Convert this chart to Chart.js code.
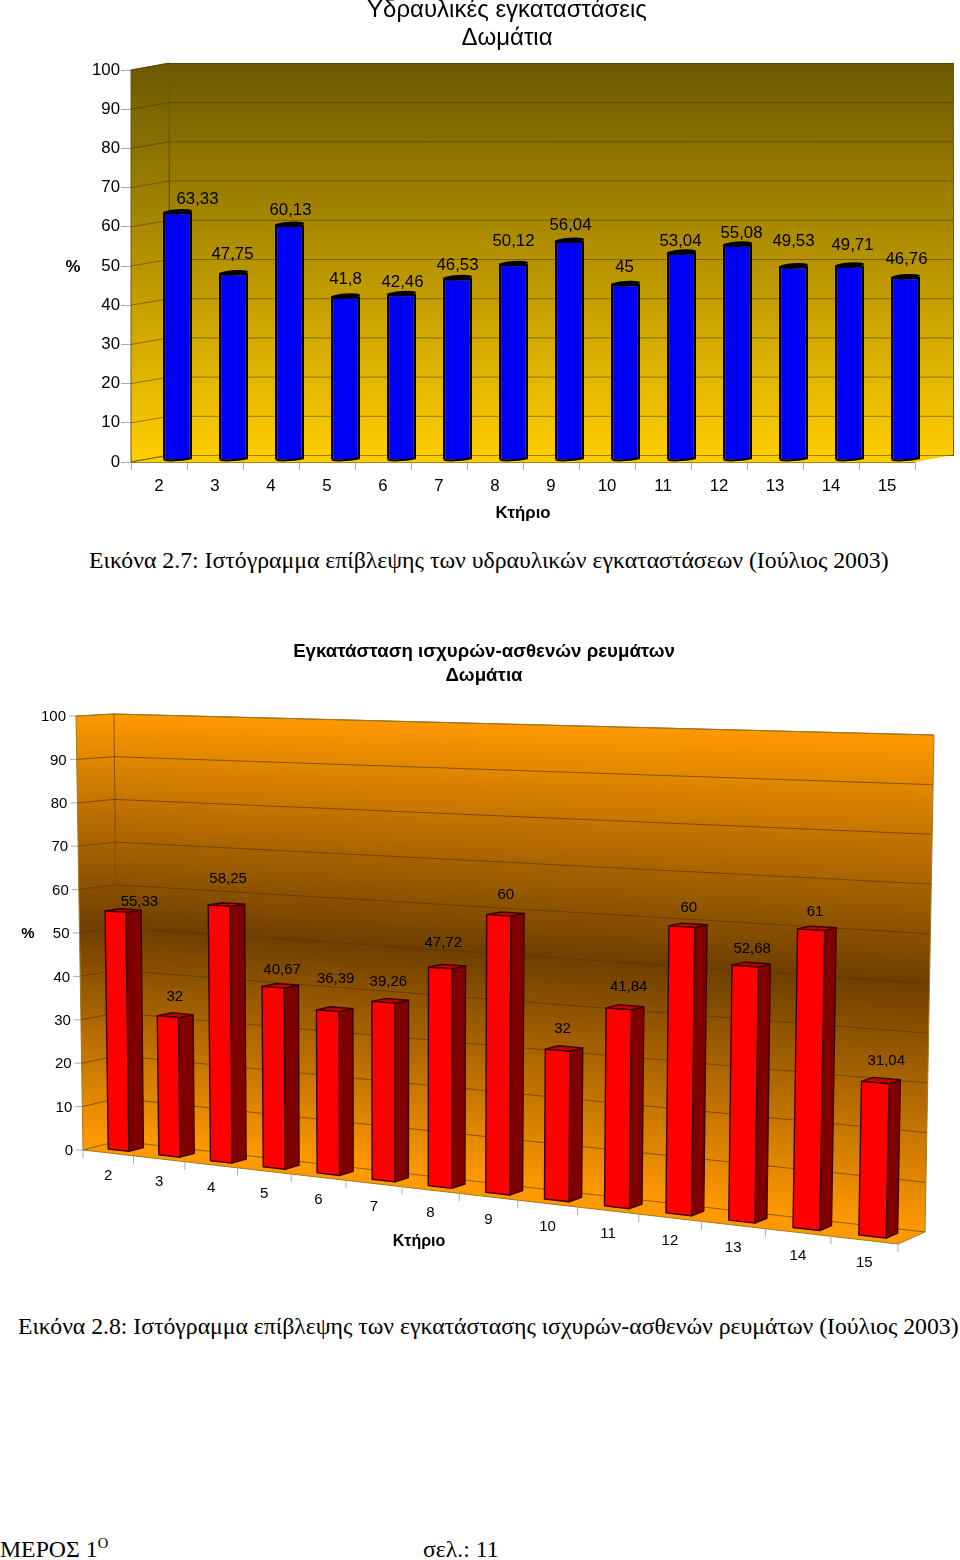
<!DOCTYPE html>
<html>
<head>
<meta charset="utf-8">
<script src="https://cdn.jsdelivr.net/npm/chart.js@4"></script>
<style>
html, body { margin: 0; padding: 0; background: #fff; }
#page { position: relative; width: 960px; height: 1560px; overflow: hidden; }
canvas { position: absolute; left: 0; }
.cap { position: absolute; font-family: "Liberation Serif", serif; font-size: 23.75px; color: #000; white-space: nowrap; line-height: 28px; }
sup { font-size: 14.5px; line-height: 0; }
</style>
</head>
<body>
<div id="page">
  <canvas id="waterChart" width="960" height="530" style="top:0"></canvas>
  <div class="cap" style="left:89px;top:546px">Εικόνα 2.7: Ιστόγραμμα επίβλεψης των υδραυλικών εγκαταστάσεων (Ιούλιος 2003)</div>
  <canvas id="powerChart" width="960" height="670" style="top:630px"></canvas>
  <div class="cap" style="left:18px;top:1312px;letter-spacing:-0.02px">Εικόνα 2.8: Ιστόγραμμα επίβλεψης των εγκατάστασης ισχυρών-ασθενών ρευμάτων (Ιούλιος 2003)</div>
  <div class="cap" style="left:0;top:1535px">ΜΕΡΟΣ 1<sup>Ο</sup></div>
  <div class="cap" style="left:423px;top:1535px">σελ.: 11</div>
</div>
<script>
const buildings = ['2', '3', '4', '5', '6', '7', '8', '9', '10', '11', '12', '13', '14', '15'];
const waterValues = [63.33, 47.75, 60.13, 41.8, 42.46, 46.53, 50.12, 56.04, 45, 53.04, 55.08, 49.53, 49.71, 46.76];
const powerValues = [55.33, 32, 58.25, 40.67, 36.39, 39.26, 47.72, 60, 32, 41.84, 60, 52.68, 61, 31.04];

// hand placed label offsets, the original labels do not sit evenly above the bars
const waterLabelDx = [20, -1, 1, 0, 1, 0, 0, 1, -1, -1, 4, 0, 3, 1];
const waterLabelDy = [-12, -18, -14, -17, -11, -12, -22, -15, -16, -11, -11, -24, -20, -17];
const powerLabelDx = [24, 7, 9, 9, 8, 5, 3, 7, 5, 10, 7, 7, 4, 11];
const powerLabelDy = [-10, -20, -27, -17, -32, -20, -25, -20, -21, -22, -19, -17, -18, -22];

const sans = '"Liberation Sans", Arial, sans-serif';
const commaValue = v => String(v).replace('.', ',');

function text(ctx, str, x, y, font, align) {
    ctx.font = font;
    ctx.fillStyle = '#000';
    ctx.textAlign = align || 'center';
    ctx.textBaseline = 'middle';
    ctx.fillText(str, x, y);
}

// Chart 1: oblique 3D, wall pushed back by a fixed offset
const wallDx = 38, wallDy = -7;
const barDx = 18.5, barDy = -2;

function stripePattern(ctx) {
    const c = document.createElement('canvas');
    c.width = 6; c.height = 1;
    const p = c.getContext('2d');
    p.fillStyle = '#0000ff'; p.fillRect(0, 0, 6, 1);
    p.fillStyle = '#0000d2'; p.fillRect(4, 0, 1, 1);
    return ctx.createPattern(c, 'repeat');
}

const waterWalls = {
    id: 'waterWalls',
    beforeDatasetsDraw(chart) {
        const ctx = chart.ctx, a = chart.chartArea, y = chart.scales.y;
        const grad = ctx.createLinearGradient(0, a.top + wallDy, 0, a.bottom + wallDy);
        grad.addColorStop(0, '#6b5800');
        grad.addColorStop(1, '#ffcc00');
        ctx.save();
        ctx.lineWidth = 1;
        ctx.strokeStyle = '#6b5a10';
        ctx.fillStyle = grad;
        // back wall
        ctx.fillRect(a.left + wallDx, a.top + wallDy, a.right - a.left, a.bottom - a.top);
        ctx.strokeRect(a.left + wallDx + .5, a.top + wallDy + .5, a.right - a.left, a.bottom - a.top);
        // side wall
        ctx.beginPath();
        ctx.moveTo(a.left, a.top);
        ctx.lineTo(a.left + wallDx, a.top + wallDy);
        ctx.lineTo(a.left + wallDx, a.bottom + wallDy);
        ctx.lineTo(a.left, a.bottom);
        ctx.closePath();
        ctx.fill();
        ctx.stroke();
        // floor
        ctx.fillStyle = '#ffcc00';
        ctx.beginPath();
        ctx.moveTo(a.left, a.bottom);
        ctx.lineTo(a.left + wallDx, a.bottom + wallDy);
        ctx.lineTo(a.right + wallDx, a.bottom + wallDy);
        ctx.lineTo(a.right, a.bottom);
        ctx.closePath();
        ctx.fill();
        ctx.strokeStyle = '#a08a20';
        ctx.beginPath();
        ctx.moveTo(a.left, a.bottom + .5);
        ctx.lineTo(a.right, a.bottom + .5);
        ctx.stroke();
        // gridlines on both walls
        ctx.strokeStyle = 'rgba(70,58,0,0.55)';
        y.ticks.forEach(t => {
            const py = y.getPixelForValue(t.value);
            ctx.beginPath();
            ctx.moveTo(a.left, py);
            ctx.lineTo(a.left + wallDx, py + wallDy + .5);
            ctx.lineTo(a.right + wallDx, py + wallDy + .5);
            ctx.stroke();
        });
        ctx.restore();
        // bars are drawn by the library, shifted into the box
        ctx.save();
        ctx.translate(barDx, barDy);
    },
    afterDatasetsDraw(chart) {
        const ctx = chart.ctx;
        const bars = chart.getDatasetMeta(0).data;
        ctx.fillStyle = '#000';
        ctx.strokeStyle = '#000';
        bars.forEach(b => {
            const r = b.width / 2;
            ctx.beginPath();
            ctx.ellipse(b.x, b.y, r, 2.6, -0.07, 0, Math.PI * 2);
            ctx.fill();
            ctx.lineWidth = 2;
            ctx.beginPath();
            ctx.ellipse(b.x, b.base - 1, r - 1, 1.6, -0.07, 0, Math.PI);
            ctx.stroke();
        });
        ctx.restore();
        bars.forEach((b, i) => {
            text(ctx, commaValue(waterValues[i]), b.x + barDx + waterLabelDx[i], b.y + barDy + waterLabelDy[i], '16.8px ' + sans);
        });
        text(ctx, 'Υδραυλικές εγκαταστάσεις', 507, 10, '24px ' + sans);
        text(ctx, 'Δωμάτια', 507, 38, '24px ' + sans);
        text(ctx, '%', 73, 267, 'bold 16.8px ' + sans);
    }
};

new Chart(document.getElementById('waterChart'), {
    type: 'bar',
    data: {
        labels: buildings,
        datasets: [{
            data: waterValues,
            backgroundColor: ctx => stripePattern(ctx.chart.ctx),
            borderColor: '#000',
            borderWidth: 2.6,
            barPercentage: 0.52,
            categoryPercentage: 1,
            clip: false
        }]
    },
    options: {
        responsive: false,
        animation: false,
        layout: { padding: { top: 70, right: 45 } },
        plugins: { legend: { display: false }, tooltip: { enabled: false } },
        scales: {
            x: {
                afterFit: s => { s.height = 68; },
                border: { display: false },
                grid: { drawOnChartArea: false, color: '#aaa', tickLength: 8, offset: true },
                ticks: { color: '#000', font: { size: 16.8, family: sans }, padding: 6, maxRotation: 0 },
                title: { display: true, text: 'Κτήριο', color: '#000', font: { size: 16.8, weight: 'bold', family: sans }, padding: { top: 0, bottom: 7 } }
            },
            y: {
                min: 0, max: 100,
                afterFit: s => { s.width = 131; },
                border: { display: false },
                grid: { drawOnChartArea: false, color: '#aaa', tickLength: 10 },
                ticks: { stepSize: 10, color: '#000', font: { size: 16.8, family: sans }, padding: 1 }
            }
        }
    },
    plugins: [waterWalls]
});

// Chart 2: perspective box. Corners of the box in canvas pixels, the flat
// plot area of the library is mapped onto it by project().
const frontBottom = [[83, 520], [898, 614]];
const frontTop = [[76, 86], [908, 109]];
const backBottom = [[118, 511], [925, 602]];
const backTop = [[114, 84], [934, 105]];
const depthPull = 0.166;
const barFront = 0.3, barBack = 0.72;
const barScale = 0.993;

const lerp = (p, q, t) => [p[0] + (q[0] - p[0]) * t, p[1] + (q[1] - p[1]) * t];
const foreshorten = t => t / (1 + depthPull * (1 - t));

// t: 0..1 along the categories, h: 0..1 of the value axis, d: 0 front .. 1 back
function project(t, h, d) {
    const a = foreshorten(t);
    const front = lerp(lerp(frontBottom[0], frontBottom[1], a), lerp(frontTop[0], frontTop[1], a), h);
    const back = lerp(lerp(backBottom[0], backBottom[1], a), lerp(backTop[0], backTop[1], a), h);
    return lerp(front, back, d);
}

function poly(ctx, pts, fill, stroke) {
    ctx.beginPath();
    pts.forEach((p, i) => i ? ctx.lineTo(p[0], p[1]) : ctx.moveTo(p[0], p[1]));
    ctx.closePath();
    if (fill) { ctx.fillStyle = fill; ctx.fill(); }
    if (stroke) { ctx.strokeStyle = stroke; ctx.stroke(); }
}

function bandGradient(ctx, p, q) {
    const g = ctx.createLinearGradient(p[0], p[1], q[0], q[1]);
    g.addColorStop(0, '#ff9900');
    g.addColorStop(0.5, '#6e3f00');
    g.addColorStop(1, '#ff9900');
    return g;
}

const powerBox = {
    id: 'powerBox',
    beforeDatasetsDraw(chart) {
        const ctx = chart.ctx, y = chart.scales.y, a = chart.chartArea;
        const hOf = v => (a.bottom - y.getPixelForValue(v)) / (a.bottom - a.top);
        const lineCol = 'rgba(90,50,0,0.65)';
        ctx.save();
        // back wall in thin strips so the gradient follows the perspective
        const steps = 200;
        for (let i = 0; i < steps; i++) {
            const t0 = i / steps, t1 = Math.min(1, (i + 1.6) / steps);
            const top = project(t0, 1, 1), bot = project(t0, 0, 1);
            poly(ctx, [top, project(t1, 1, 1), project(t1, 0, 1), bot], bandGradient(ctx, top, bot));
        }
        // side wall
        const sideTop = project(0, 1, 1), sideBot = project(0, 0, 1);
        poly(ctx, [project(0, 1, 0), sideTop, sideBot, project(0, 0, 0)], bandGradient(ctx, sideTop, sideBot));
        // floor
        poly(ctx, [project(0, 0, 0), project(0, 0, 1), project(1, 0, 1), project(1, 0, 0)], '#ff9900');
        ctx.lineWidth = 1;
        y.ticks.forEach(t => {
            const h = hOf(t.value);
            const p = project(0, h, 0), q = project(0, h, 1), r = project(1, h, 1);
            ctx.strokeStyle = lineCol;
            ctx.beginPath();
            ctx.moveTo(p[0], p[1]);
            ctx.lineTo(q[0], q[1]);
            ctx.lineTo(r[0], r[1]);
            ctx.stroke();
            // tick mark and label
            ctx.strokeStyle = '#aaa';
            ctx.beginPath();
            ctx.moveTo(p[0] - 7, p[1]);
            ctx.lineTo(p[0], p[1]);
            ctx.stroke();
            text(ctx, t.label, p[0] - 10, p[1] + 1, '15px ' + sans, 'right');
        });
        // wall outline
        poly(ctx, [project(0, 1, 0), project(0, 1, 1), project(1, 1, 1), project(1, 0, 1), project(1, 0, 0), project(0, 0, 0)], null, '#a07a20');
        ctx.strokeStyle = lineCol;
        ctx.beginPath();
        ctx.moveTo(sideTop[0], sideTop[1]);
        ctx.lineTo(sideBot[0], sideBot[1]);
        ctx.stroke();
        // category ticks along the floor edge
        ctx.strokeStyle = '#aaa';
        for (let i = 0; i <= buildings.length; i++) {
            const p = project(i / buildings.length, 0, 0);
            ctx.beginPath();
            ctx.moveTo(p[0], p[1]);
            ctx.lineTo(p[0], p[1] + 8);
            ctx.stroke();
        }
        ctx.restore();
    },
    afterDatasetsDraw(chart) {
        const ctx = chart.ctx, a = chart.chartArea, x = chart.scales.x;
        const w = a.right - a.left, hgt = a.bottom - a.top;
        const bars = chart.getDatasetMeta(0).data;
        ctx.save();
        ctx.lineWidth = 1.4;
        ctx.lineJoin = 'round';
        bars.forEach((b, i) => {
            const t0 = (b.x - b.width / 2 - a.left) / w, t1 = (b.x + b.width / 2 - a.left) / w;
            const h = barScale * (a.bottom - b.y) / hgt;
            const edge = '#3a0000';
            poly(ctx, [project(t1, 0, barFront), project(t1, 0, barBack), project(t1, h, barBack), project(t1, h, barFront)], '#800000', edge);
            poly(ctx, [project(t0, h, barFront), project(t1, h, barFront), project(t1, h, barBack), project(t0, h, barBack)], '#c00000', edge);
            poly(ctx, [project(t0, 0, barFront), project(t1, 0, barFront), project(t1, h, barFront), project(t0, h, barFront)], '#ff0000', edge);
            const mid = project((t0 + t1) / 2, h, barFront);
            text(ctx, commaValue(powerValues[i]), mid[0] + powerLabelDx[i], mid[1] + powerLabelDy[i], '15px ' + sans);
        });
        buildings.forEach((label, i) => {
            const p = project((x.getPixelForValue(i) - a.left) / w, 0, 0);
            text(ctx, label, p[0], p[1] + 23, '15px ' + sans);
        });
        ctx.restore();
        text(ctx, 'Εγκατάσταση ισχυρών-ασθενών ρευμάτων', 484, 22, 'bold 18.7px ' + sans);
        text(ctx, 'Δωμάτια', 484, 46, 'bold 18.7px ' + sans);
        text(ctx, 'Κτήριο', 419, 612, 'bold 16px ' + sans);
        text(ctx, '%', 28, 304, 'bold 15px ' + sans);
    }
};

new Chart(document.getElementById('powerChart'), {
    type: 'bar',
    data: {
        labels: buildings,
        datasets: [{
            data: powerValues,
            backgroundColor: 'transparent',
            barPercentage: 0.41,
            categoryPercentage: 1
        }]
    },
    options: {
        responsive: false,
        animation: false,
        layout: { padding: { top: 86, right: 62 } },
        plugins: { legend: { display: false }, tooltip: { enabled: false } },
        scales: {
            x: {
                afterFit: s => { s.height = 150; },
                border: { display: false },
                grid: { display: false },
                ticks: { display: false }
            },
            y: {
                min: 0, max: 100,
                afterFit: s => { s.width = 83; },
                border: { display: false },
                grid: { display: false },
                ticks: { stepSize: 10, display: false }
            }
        }
    },
    plugins: [powerBox]
});
</script>
</body>
</html>
